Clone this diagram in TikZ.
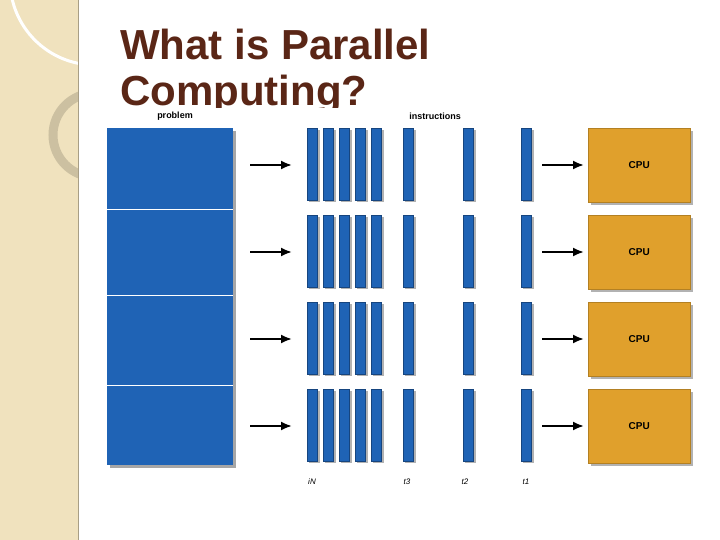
\documentclass[tikz,border=0pt]{standalone}
\usepackage{fontspec}
\setmainfont{Liberation Sans}
\usetikzlibrary{arrows.meta, positioning}
\definecolor{ttl_brown}{RGB}{90, 38, 22}
\definecolor{prob_blue}{RGB}{31, 99, 181}
\definecolor{cpu_orange}{RGB}{224, 160, 44}
\definecolor{strip_beige}{RGB}{240, 226, 190}
\tikzset{
  bar/.style={fill=prob_blue, draw=prob_blue!70!black, minimum width=10pt, minimum height=72pt, inner sep=0pt},
  cpu/.style={fill=cpu_orange, draw=cpu_orange!80!black, minimum width=102pt, minimum height=74pt, inner sep=0pt, font=\bfseries},
  feed/.style={-{Latex[length=11pt, width=9pt]}, line width=2pt},
  tick/.style={font=\footnotesize\itshape}
}
\begin{document}
\begin{tikzpicture}[x=1pt, y=-1pt]
  \useasboundingbox (0,0) rectangle (720,540);
  % --- Background strip ---
  \fill[strip_beige] (0,0) rectangle (78,540);
  \begin{scope}
    \clip (0,0) rectangle (78,540);
    \draw[white, line width=3pt] (95,-20) circle[radius=85];
    \draw[strip_beige!85!black, line width=9pt] (95,135) circle[radius=42];
  \end{scope}
  \draw[strip_beige!70!black] (78,0) -- (78,540);

  % --- Title ---
  \node[anchor=base west, inner sep=0pt, text=ttl_brown, font=\fontsize{42}{42}\selectfont\bfseries] (title1) at (120,60) {What is Parallel};
  \node[anchor=base west, inner sep=0pt, text=ttl_brown, font=\fontsize{42}{42}\selectfont\bfseries] (title2) at (120,106) {Computing?};
  \fill[white] (100,108) rectangle (500,127);

  \node[font=\bfseries\small] (problem) at (175,116) {problem};
  \node[font=\bfseries\small] (instr) at (435,116) {instructions};

  % --- Problem box ---
  \fill[black!35] (110,131) rectangle (236,468);
  \fill[prob_blue] (107,128) rectangle (233,465);
  \foreach \y in {209,295,385}
    \draw[white] (107,\y) -- (233,\y);

  % --- Rows ---
  \foreach \r/\y in {0/128,1/215,2/302,3/389} {
    \coordinate (la\r) at (250,\y+37);
    \coordinate (lb\r) at (292,\y+37);
    \draw[feed] (la\r) -- (lb\r);
    \foreach \x in {307,323,339,355,371,403,463,521} {
      \fill[black!30] (\x+2,\y+2) rectangle (\x+13,\y+74);
      \node[bar, anchor=north west] at (\x,\y) {};
    }
    \coordinate (ra\r) at (542,\y+37);
    \coordinate (rb\r) at (584,\y+37);
    \draw[feed] (ra\r) -- (rb\r);
    \fill[black!30] (591,\y+3) rectangle (693,\y+77);
    \node[cpu, anchor=north west] (cpu\r) at (588,\y) {CPU};
  }

  % --- Time labels ---
  \node[tick] (tN) at (312,482) {iN};
  \node[tick] (t3) at (407,482) {t3};
  \node[tick] (t2) at (465,482) {t2};
  \node[tick] (t1) at (526,482) {t1};
\end{tikzpicture}
\end{document}
